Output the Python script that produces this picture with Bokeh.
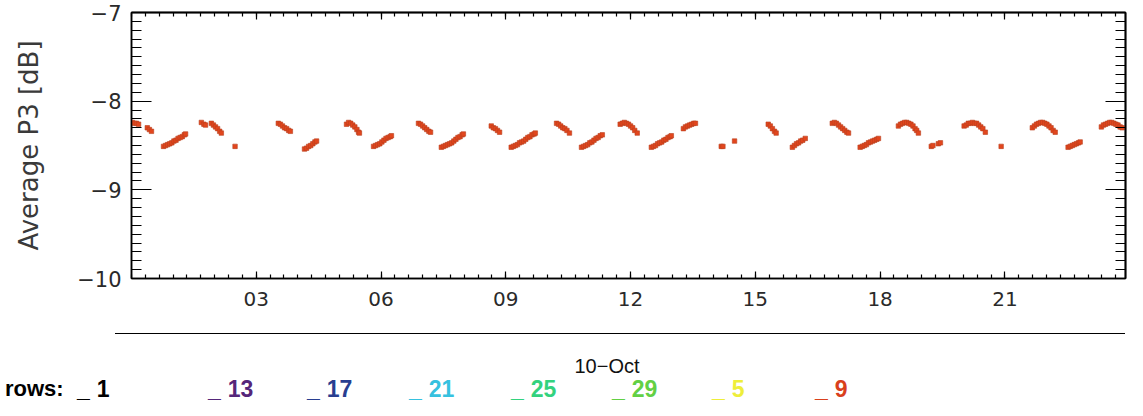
from bokeh.plotting import figure
from bokeh.models import LinearAxis, FixedTicker, Range1d, Div
from bokeh.layouts import column
from bokeh.embed import file_html
from bokeh.resources import INLINE

# ---------------- data ----------------
hours = [
    0.02, 0.07, 0.12, 0.17, 0.38, 0.43, 0.48,
    0.77, 0.82, 0.87, 0.92, 0.97, 1.02, 1.07, 1.12, 1.17, 1.22, 1.27, 1.30,
    1.68, 1.74, 1.78, 1.92, 1.97, 2.02, 2.07, 2.12, 2.16,
    2.49,
    3.53, 3.58, 3.63, 3.68, 3.73, 3.78, 3.82,
    4.16, 4.21, 4.26, 4.31, 4.36, 4.41, 4.45,
    5.17, 5.22, 5.27, 5.32, 5.37, 5.42, 5.46, 5.48,
    5.82, 5.87, 5.92, 5.97, 6.02, 6.07, 6.12, 6.17, 6.22, 6.25,
    6.90, 6.95, 7.00, 7.05, 7.10, 7.15, 7.19,
    7.45, 7.50, 7.55, 7.60, 7.65, 7.70, 7.75, 7.80, 7.85, 7.90, 7.95, 7.98,
    8.65, 8.70, 8.75, 8.80, 8.85,
    9.13, 9.18, 9.23, 9.28, 9.33, 9.38, 9.43, 9.48, 9.53, 9.58, 9.63, 9.68, 9.71,
    10.22, 10.27, 10.32, 10.37, 10.42, 10.47, 10.53,
    10.82, 10.87, 10.92, 10.97, 11.02, 11.07, 11.12, 11.17, 11.22, 11.27, 11.32,
    11.75, 11.80, 11.85, 11.90, 11.95, 12.00, 12.05, 12.10, 12.16,
    12.50, 12.55, 12.60, 12.65, 12.70, 12.75, 12.80, 12.85, 12.90, 12.95, 12.98,
    13.27, 13.32, 13.37, 13.42, 13.47, 13.52, 13.56,
    14.18, 14.22, 14.50,
    15.31, 15.36, 15.41, 15.46, 15.50,
    15.89, 15.94, 15.99, 16.04, 16.09, 16.14, 16.20,
    16.85, 16.90, 16.95, 17.00, 17.05, 17.10, 17.15, 17.20, 17.24,
    17.52, 17.57, 17.62, 17.67, 17.72, 17.77, 17.82, 17.87, 17.92, 17.96,
    18.44, 18.49, 18.54, 18.59, 18.64, 18.69, 18.74, 18.79, 18.84, 18.88, 18.92,
    19.23, 19.27, 19.40, 19.45,
    20.02, 20.07, 20.12, 20.17, 20.22, 20.27, 20.32, 20.37, 20.42, 20.47, 20.53,
    20.91,
    21.66, 21.71, 21.76, 21.81, 21.86, 21.91, 21.96, 22.01, 22.06, 22.11, 22.16, 22.21,
    22.52, 22.57, 22.62, 22.67, 22.72, 22.77, 22.81,
    23.32, 23.37, 23.42, 23.47, 23.52, 23.57, 23.62, 23.67, 23.72, 23.77, 23.82,
]
p3_db = [
    -8.24, -8.25, -8.25, -8.26, -8.30, -8.32, -8.34,
    -8.51, -8.50, -8.49, -8.48, -8.47, -8.45, -8.44, -8.42, -8.41, -8.40, -8.38, -8.37,
    -8.24, -8.26, -8.27, -8.25, -8.27, -8.29, -8.31, -8.34, -8.36,
    -8.51,
    -8.25, -8.26, -8.28, -8.30, -8.31, -8.33, -8.34,
    -8.54, -8.53, -8.51, -8.50, -8.48, -8.46, -8.45,
    -8.26, -8.24, -8.25, -8.27, -8.29, -8.32, -8.35, -8.36,
    -8.51, -8.50, -8.49, -8.48, -8.46, -8.44, -8.42, -8.41, -8.40, -8.39,
    -8.25, -8.26, -8.28, -8.30, -8.32, -8.34, -8.35,
    -8.52, -8.51, -8.50, -8.49, -8.48, -8.47, -8.45, -8.43, -8.41, -8.40, -8.38, -8.37,
    -8.28, -8.30, -8.31, -8.33, -8.35,
    -8.52, -8.51, -8.50, -8.49, -8.47, -8.46, -8.45, -8.43, -8.41, -8.40, -8.38, -8.37, -8.36,
    -8.25, -8.26, -8.28, -8.30, -8.31, -8.33, -8.36,
    -8.52, -8.51, -8.50, -8.49, -8.47, -8.46, -8.44, -8.42, -8.41, -8.39, -8.38,
    -8.26, -8.25, -8.24, -8.25, -8.26, -8.28, -8.30, -8.33, -8.36,
    -8.52, -8.51, -8.50, -8.48, -8.47, -8.46, -8.44, -8.43, -8.41, -8.40, -8.39,
    -8.31, -8.29, -8.28, -8.27, -8.26, -8.25, -8.25,
    -8.51, -8.51, -8.45,
    -8.26, -8.28, -8.31, -8.34, -8.36,
    -8.52, -8.50, -8.48, -8.47, -8.45, -8.44, -8.42,
    -8.25, -8.24, -8.25, -8.27, -8.29, -8.31, -8.33, -8.35, -8.36,
    -8.52, -8.51, -8.50, -8.49, -8.47, -8.46, -8.45, -8.44, -8.43, -8.42,
    -8.28, -8.26, -8.25, -8.24, -8.24, -8.25, -8.26, -8.28, -8.31, -8.33, -8.36,
    -8.51, -8.50, -8.48, -8.47,
    -8.28, -8.27, -8.25, -8.25, -8.24, -8.25, -8.25, -8.27, -8.29, -8.31, -8.35,
    -8.51,
    -8.30, -8.28, -8.26, -8.25, -8.24, -8.24, -8.25, -8.26, -8.28, -8.30, -8.33, -8.35,
    -8.52, -8.51, -8.50, -8.49, -8.48, -8.47, -8.46,
    -8.29, -8.27, -8.26, -8.25, -8.24, -8.24, -8.25, -8.26, -8.27, -8.29, -8.30,
]

x_ticks = [3, 6, 9, 12, 15, 18, 21]
x_tick_labels = ["03", "06", "09", "12", "15", "18", "21"]
y_ticks = [-10, -9, -8, -7]
y_tick_labels = ["\u221210", "\u22129", "\u22128", "\u22127"]
date_label = "10\u2212Oct"
y_label = "Average P3 [dB]"
legend_title = "rows:"
legend_rows = ["1", "13", "17", "21", "25", "29", "5", "9"]
legend_colors = ["#000000", "#55267a", "#283e90", "#36c1df", "#33d27e",
                 "#62d044", "#eeee3a", "#d9401c"]
series_color = "#e2461d"

# ---------------- layout ----------------
X0, X1 = 0.0, 23.9
Y0, Y1 = -10.0, -7.0
FRAME_LEFT, FRAME_TOP = 131, 12
FRAME_W, FRAME_H = 994, 266
FIG_W = 1133
FIG_H = 320
FONT = "DejaVu Sans"
LFONT = "Liberation Sans"

p = figure(frame_width=FRAME_W, frame_height=FRAME_H,
           x_range=Range1d(X0, X1), y_range=Range1d(Y0, Y1),
           output_backend="svg", toolbar_location=None,
           min_border_left=FRAME_LEFT, min_border_top=FRAME_TOP,
           min_border_right=FIG_W - FRAME_LEFT - FRAME_W,
           min_border_bottom=FIG_H - FRAME_TOP - FRAME_H,
           x_axis_location=None, y_axis_location=None)
p.xgrid.visible = False
p.ygrid.visible = False
p.outline_line_color = "black"
p.outline_line_width = 1.5
p.background_fill_color = "white"
p.border_fill_color = "white"

x_minor = [i / 3 for i in range(0, 72)]
y_minor = [-10 + i / 10 for i in range(0, 31)]


def base_axis(ax):
    ax.axis_line_color = "black"
    ax.axis_line_width = 1.5
    ax.major_tick_out = 0
    ax.minor_tick_out = 0
    ax.major_tick_line_color = "black"
    ax.minor_tick_line_color = "black"
    ax.major_tick_line_width = 1.2
    ax.minor_tick_line_width = 1.2
    ax.major_label_text_font = FONT
    ax.major_label_text_font_size = "20px"
    ax.major_label_text_color = "#2a2a2a"


def tick_only_axis(tick_values, tick_len):
    # unlabeled axis: ticks drawn as "minor" ticks, no major ticks -> no labels
    ax = LinearAxis(ticker=FixedTicker(ticks=[], minor_ticks=tick_values))
    base_axis(ax)
    ax.minor_tick_in = tick_len
    ax.major_tick_in = 0
    ax.major_label_standoff = 0
    return ax


# bottom axis with labels
xb = LinearAxis(ticker=FixedTicker(ticks=x_ticks, minor_ticks=x_minor))
base_axis(xb)
xb.major_tick_in = 7
xb.minor_tick_in = 4
xb.major_label_overrides = {t: s for t, s in zip(x_ticks, x_tick_labels)}
xb.major_label_standoff = 13
p.add_layout(xb, "below")

# left axis with labels
yl = LinearAxis(ticker=FixedTicker(ticks=y_ticks, minor_ticks=y_minor))
base_axis(yl)
yl.major_label_text_font_size = "21px"
yl.major_tick_in = 20
yl.minor_tick_in = 10
yl.major_label_overrides = {t: s for t, s in zip(y_ticks, y_tick_labels)}
yl.major_label_standoff = 10
yl.axis_label = y_label
yl.axis_label_text_font = FONT
yl.axis_label_text_font_style = "normal"
yl.axis_label_text_font_size = "26px"
yl.axis_label_text_color = "#3a3a3a"
yl.axis_label_standoff = 30
p.add_layout(yl, "left")

# top: ticks only (minor, then major)
p.add_layout(tick_only_axis(x_minor, 4), "above")
p.add_layout(tick_only_axis(x_ticks, 7), "above")
# right: ticks only (minor, then major)
p.add_layout(tick_only_axis(y_minor, 10), "right")
p.add_layout(tick_only_axis(y_ticks, 20), "right")

# data
p.scatter(hours, p3_db, marker="square", size=4.5,
          fill_color=series_color, line_color="#b8401f", line_width=0.6)

# ---------------- date line, date label and legend row below ----------------
DIV_H = 80
line_top = 333 - FIG_H
date_center_y = 366 - FIG_H
legend_center_y = 389 - FIG_H
date_center_x = 607
legend_title_x = 5
legend_item_x = [77, 208, 307, 409, 511, 612, 712, 815]

parts = [
    f'<div style="position:relative;width:{FIG_W}px;height:{DIV_H}px;'
    f'font-family:\'{LFONT}\';background:white;">',
    f'<div style="position:absolute;left:115px;top:{line_top}px;'
    f'width:{FRAME_LEFT + FRAME_W - 115}px;height:0;border-top:1.6px solid #000;"></div>',
    f'<span style="position:absolute;left:{date_center_x}px;top:{date_center_y - 10}px;'
    f'transform:translateX(-50%);font-size:20px;line-height:20px;color:#111;'
    f'white-space:nowrap;">{date_label}</span>',
    f'<span style="position:absolute;left:{legend_title_x}px;top:{legend_center_y - 11}px;'
    f'font-size:22px;line-height:22px;font-weight:bold;color:#000;'
    f'white-space:nowrap;">{legend_title}</span>',
]
for x, name, col in zip(legend_item_x, legend_rows, legend_colors):
    parts.append(
        f'<span style="position:absolute;left:{x}px;top:{legend_center_y - 11}px;'
        f'font-size:23px;line-height:22px;font-weight:bold;color:{col};'
        f'white-space:nowrap;">_<span style="margin-left:7px">{name}</span></span>')
parts.append('</div>')
legend_div = Div(text="".join(parts), width=FIG_W, height=DIV_H, margin=0)

layout = column(p, legend_div, spacing=0)
open("out.html", "w").write(file_html(layout, INLINE))
